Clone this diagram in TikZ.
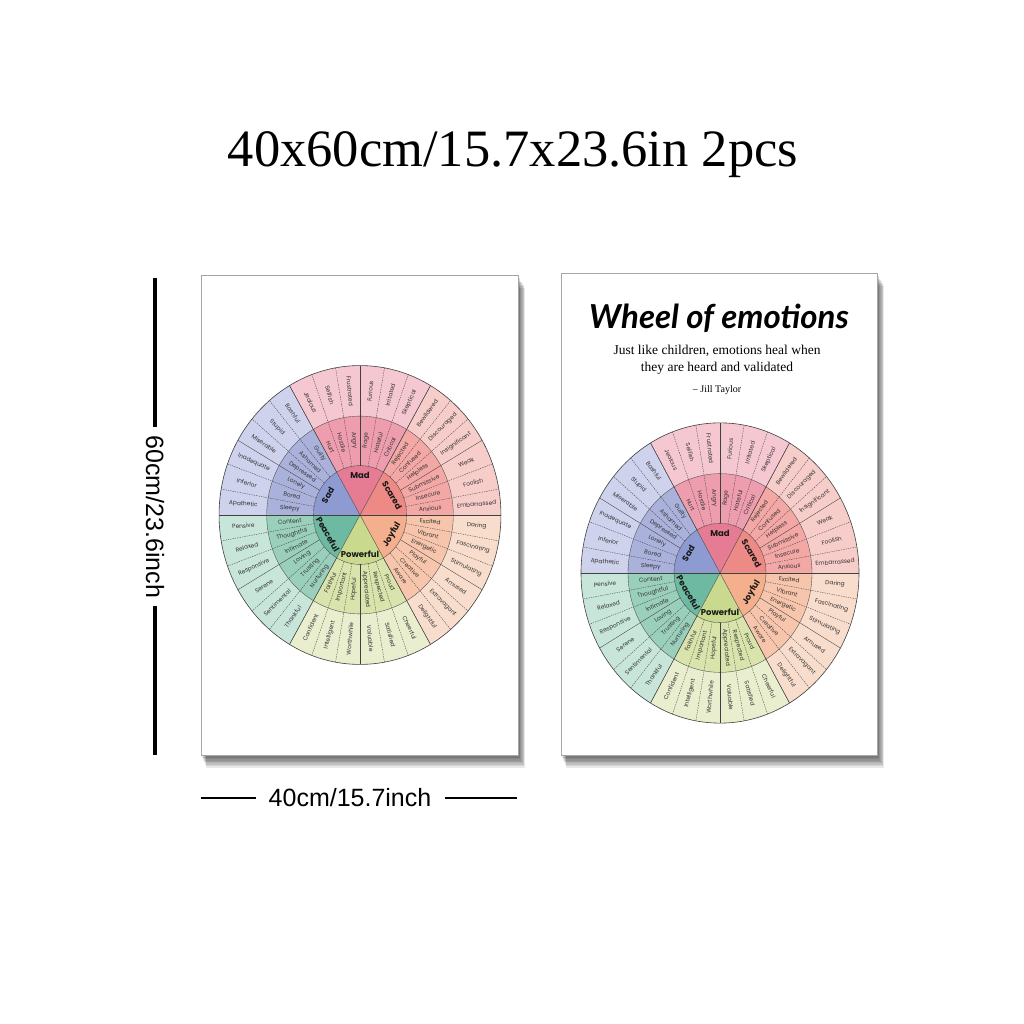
\documentclass[tikz,border=0pt]{standalone}
\usepackage{fontspec}
\setmainfont{Liberation Serif}
\newfontfamily\wheelfont{Poppins}
\newfontfamily\labelfont{Liberation Sans}
\newfontfamily\brushfont{Lato}

\definecolor{coremad}{HTML}{E57C93}
\definecolor{midmad}{HTML}{EE9DAE}
\definecolor{outmad}{HTML}{F5C8D1}
\definecolor{corescared}{HTML}{EE8A86}
\definecolor{midscared}{HTML}{F3A8A5}
\definecolor{outscared}{HTML}{F7CDCA}
\definecolor{corejoyful}{HTML}{F4AF8C}
\definecolor{midjoyful}{HTML}{F6C5AB}
\definecolor{outjoyful}{HTML}{F8DDCD}
\definecolor{corepowerful}{HTML}{C9DA8E}
\definecolor{midpowerful}{HTML}{D8E4AB}
\definecolor{outpowerful}{HTML}{E8EECE}
\definecolor{corepeaceful}{HTML}{6DB9A1}
\definecolor{midpeaceful}{HTML}{9ACFBC}
\definecolor{outpeaceful}{HTML}{C8E5DA}
\definecolor{coresad}{HTML}{8E9BD2}
\definecolor{midsad}{HTML}{AAB2DC}
\definecolor{outsad}{HTML}{CED2EC}

\tikzset{
  wheel line/.style={draw=black!75,line width=.35pt},
  dash line/.style={dash pattern=on 1.4pt off 1pt},
  ring text/.style={font=\wheelfont\fontsize{5.9}{5.9}\selectfont,text=black!80,inner sep=0pt},
  core text/.style={font=\wheelfont\bfseries\fontsize{8.5}{8.5}\selectfont,text=black!90,inner sep=0pt},
  poster/.style={fill=white,draw=black!35,line width=.8pt},
  dim line/.style={draw=black,line width=3.5pt},
  dim text/.style={font=\labelfont\fontsize{25}{25}\selectfont},
}

\newcommand\emotionwheel[1]{%
  \foreach \core [count=\i from 0] in {scared,mad,sad,peaceful,powerful,joyful}{
    \pgfmathsetmacro\ang{60*\i}
    \fill[core\core] (0,0) -- (\ang:46) arc[start angle=\ang, delta angle=60, radius=46] -- cycle;
    \fill[mid\core] (\ang:46) arc[start angle=\ang, delta angle=60, radius=46]
      -- ({\ang+60}:92) arc[start angle=\ang+60, delta angle=-60, radius=92] -- cycle;
    \fill[out\core] (\ang:92) arc[start angle=\ang, delta angle=60, radius=92]
      -- ({\ang+60}:139) arc[start angle=\ang+60, delta angle=-60, radius=139] -- cycle;
  }
  \foreach \k in {1,...,35}{
    \pgfmathsetmacro\ang{10*\k}
    \pgfmathtruncatemacro\m{mod(\k,3)}
    \ifnum\m=0 \draw[wheel line] (\ang:46) -- (\ang:139);
    \else \draw[wheel line,dash line] (\ang:46) -- (\ang:139); \fi
  }
  \foreach \ang in {0,60,...,300}
    \draw[wheel line] (0,0) -- (\ang:139);
  \draw[wheel line] (0,0) circle[radius=46] (0,0) circle[radius=92];
  \draw[wheel line,line width=.6pt] (0,0) circle[radius=139];
  % secondary feelings
  \foreach \lbl [count=\i from 0] in {Anxious,Insecure,Submissive,Helpless,Confused,Rejected,
      Critical,Hateful,Rage,Angry,Hostile,Hurt,
      Guilty,Ashamed,Depressed,Lonely,Bored,Sleepy,
      Content,Thoughtful,Intimate,Loving,Trusting,Nurturing,
      Faithful,Important,Hopeful,Appreciated,Respected,Proud,
      Aware,Creative,Playful,Energetic,Vibrant,Excited}{
    \pgfmathsetmacro\ang{10*\i+5}
    \pgfmathsetmacro\rot{ifthenelse(and(\ang>90,\ang<270),\ang+180,\ang)}
    \node[ring text,rotate=\rot] (#1-mid-\i) at (\ang:69.5) {\lbl};
  }
  % outer feelings
  \foreach \lbl [count=\i from 0] in {Embarrassed,Foolish,Weak,Insignificant,Discouraged,Bewildered,
      Skeptical,Irritated,Furious,Frustrated,Selfish,Jealous,
      Bashful,Stupid,Miserable,Inadequate,Inferior,Apathetic,
      Pensive,Relaxed,Responsive,Serene,Sentimental,Thankful,
      Confident,Intelligent,Worthwhile,Valuable,Satisfied,Cheerful,
      Delightful,Extravagant,Amused,Stimulating,Fascinating,Daring}{
    \pgfmathsetmacro\ang{10*\i+5}
    \pgfmathsetmacro\rot{ifthenelse(and(\ang>90,\ang<270),\ang+180,\ang)}
    \node[ring text,rotate=\rot] (#1-out-\i) at (\ang:115.5) {\lbl};
  }
  % core feelings
  \foreach \lbl [count=\i from 0] in {Scared,Mad,Sad,Peaceful,Powerful,Joyful}{
    \pgfmathsetmacro\ang{60*\i+30}
    \pgfmathsetmacro\rot{ifthenelse(\ang<180,\ang-90,\ang+90)}
    \node[core text,rotate=\rot] (#1-core-\i) at (\ang:36.5) {\lbl};
  }
}

\begin{document}
\begin{tikzpicture}[x=1pt,y=1pt]
\fill[white] (0,0) rectangle (1024,1024);
\useasboundingbox (0,0) rectangle (1024,1024);

\node (size) at (513,869) {\fontsize{52.5}{52.5}\selectfont 40x60cm/15.7x23.6in 2pcs};

% shadows
\foreach \s in {1,...,9}{
  \fill[black,opacity=.085] (201+\s*.6,269-\s*1.4) rectangle (518+\s*.8,749-\s*1.4);
  \fill[black,opacity=.085] (561+\s*.6,269-\s*1.4) rectangle (877+\s*.8,751-\s*1.4);
}
\path[poster] (201,269) rectangle (518,749);
\path[poster] (561,269) rectangle (877,751);

% left poster
\begin{scope}[shift={(360,509)},xscale=1.014,yscale=1.075]
  \emotionwheel{left}
\end{scope}

% right poster
\node[font=\brushfont\bfseries\itshape\fontsize{33}{33}\selectfont] (title) at (719,706) {Wheel of emotions};
\node[align=center,font=\fontsize{13.5}{17}\selectfont] (quote) at (717,664) {Just like children, emotions heal when\\they are heard and validated};
\node[font=\fontsize{10}{10}\selectfont] (author) at (717,634) {-- Jill Taylor};
\begin{scope}[shift={(720,451)},yscale=1.08]
  \emotionwheel{right}
\end{scope}

% dimensions
\coordinate (htop) at (155,746);
\coordinate (hbot) at (155,269);
\node[dim text,rotate=-90,inner xsep=8pt] (hlabel) at (155,507) {60cm/23.6inch};
\draw[dim line] (htop) -- (hlabel.west);
\draw[dim line] (hlabel.east) -- (hbot);
\coordinate (wleft) at (201,226);
\coordinate (wright) at (517,226);
\node[dim text,inner xsep=13pt] (wlabel) at (350,226) {40cm/15.7inch};
\draw[dim line,line width=2pt] (wleft) -- (wlabel.west);
\draw[dim line,line width=2pt] (wlabel.east) -- (wright);
\end{tikzpicture}
\end{document}
